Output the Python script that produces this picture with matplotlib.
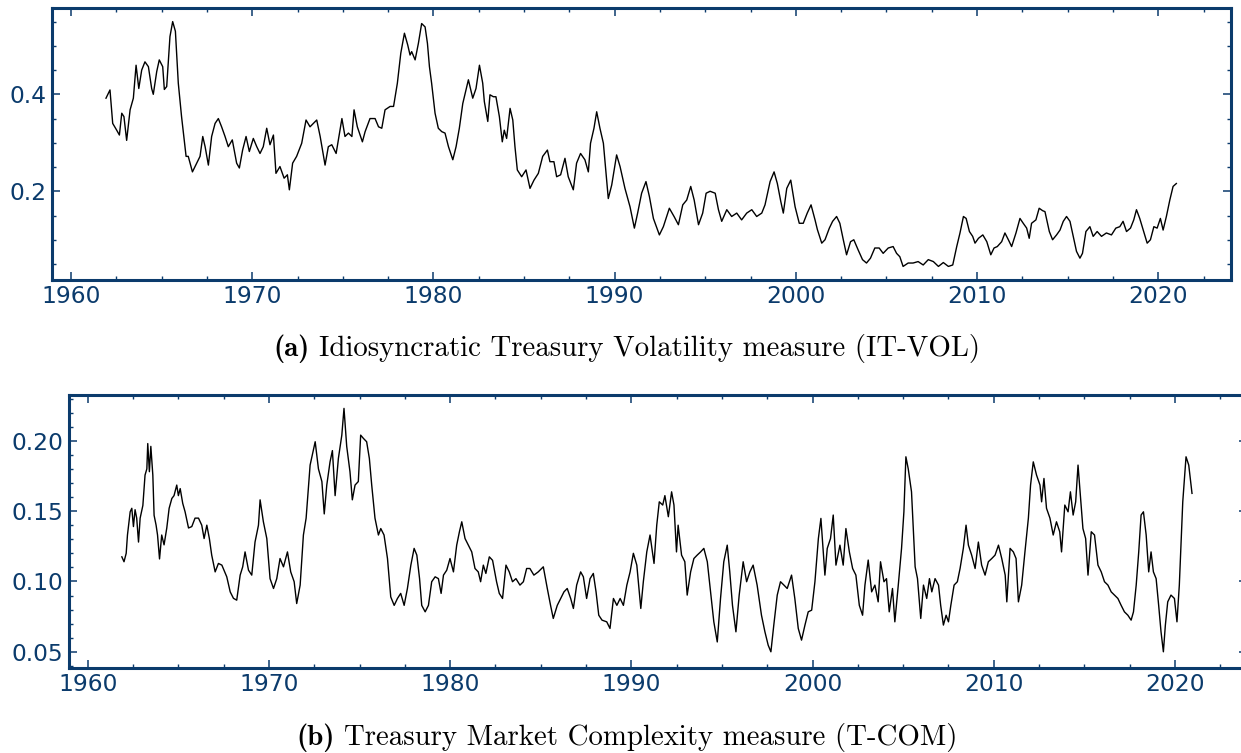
import numpy as np
import matplotlib
matplotlib.use("Agg")
import matplotlib.pyplot as plt
from matplotlib.ticker import MultipleLocator

NAVY = '#0b3b6c'

# IT-VOL (panel a)
itvol_years = [
    1961.93, 1962.15, 1962.3, 1962.52, 1962.67, 1962.8, 1962.92, 1963.07, 1963.26, 1963.44,
    1963.59, 1963.74, 1963.9, 1964.08, 1964.27, 1964.45, 1964.54, 1964.73, 1964.87, 1965.06,
    1965.15, 1965.28, 1965.46, 1965.61, 1965.76, 1965.92, 1966.1, 1966.35, 1966.47, 1966.7,
    1966.94, 1967.12, 1967.27, 1967.4, 1967.58, 1967.76, 1967.95, 1968.13, 1968.31, 1968.5,
    1968.68, 1968.9, 1969.14, 1969.29, 1969.47, 1969.66, 1969.84, 1970.06, 1970.25, 1970.43,
    1970.61, 1970.8, 1970.98, 1971.17, 1971.31, 1971.53, 1971.76, 1971.94, 1972.05, 1972.23,
    1972.45, 1972.73, 1972.97, 1973.19, 1973.56, 1973.75, 1974.02, 1974.2, 1974.39, 1974.63,
    1974.95, 1975.12, 1975.31, 1975.5, 1975.62, 1975.8, 1976.08, 1976.23, 1976.5, 1976.78,
    1976.97, 1977.15, 1977.33, 1977.61, 1977.8, 1978.01, 1978.2, 1978.4, 1978.58, 1978.71,
    1978.8, 1978.99, 1979.17, 1979.35, 1979.54, 1979.67, 1979.78, 1979.9, 1980.09, 1980.27,
    1980.46, 1980.64, 1980.83, 1981.07, 1981.25, 1981.43, 1981.62, 1981.8, 1981.93, 1982.17,
    1982.35, 1982.54, 1982.72, 1982.81, 1983.0, 1983.12, 1983.31, 1983.45, 1983.64, 1983.8,
    1983.91, 1984.04, 1984.23, 1984.38, 1984.5, 1984.63, 1984.87, 1985.11, 1985.33, 1985.55,
    1985.79, 1986.03, 1986.29, 1986.43, 1986.65, 1986.8, 1987.02, 1987.26, 1987.44, 1987.72,
    1987.9, 1988.12, 1988.36, 1988.55, 1988.67, 1988.86, 1989.01, 1989.19, 1989.38, 1989.65,
    1989.84, 1990.11, 1990.3, 1990.57, 1990.85, 1991.09, 1991.27, 1991.49, 1991.73, 1991.92,
    1992.14, 1992.47, 1992.69, 1993.02, 1993.28, 1993.52, 1993.76, 1993.98, 1994.2, 1994.39,
    1994.63, 1994.86, 1995.05, 1995.27, 1995.55, 1995.73, 1995.91, 1996.19, 1996.46, 1996.74,
    1997.01, 1997.29, 1997.57, 1997.84, 1998.12, 1998.3, 1998.58, 1998.8, 1998.98, 1999.17,
    1999.31, 1999.5, 1999.72, 1999.96, 2000.19, 2000.41, 2000.63, 2000.84, 2001.06, 2001.19,
    2001.43, 2001.61, 2001.85, 2002.03, 2002.25, 2002.43, 2002.62, 2002.8, 2003.02, 2003.2,
    2003.44, 2003.68, 2003.9, 2004.12, 2004.36, 2004.6, 2004.82, 2005.1, 2005.37, 2005.56,
    2005.74, 2005.92, 2006.2, 2006.47, 2006.75, 2007.03, 2007.31, 2007.59, 2007.87, 2008.14,
    2008.42, 2008.66, 2008.88, 2009.06, 2009.25, 2009.4, 2009.58, 2009.76, 2009.89, 2010.08,
    2010.32, 2010.54, 2010.76, 2010.94, 2011.12, 2011.36, 2011.54, 2011.73, 2011.91, 2012.15,
    2012.37, 2012.55, 2012.74, 2012.88, 2013.01, 2013.25, 2013.43, 2013.62, 2013.75, 2013.99,
    2014.17, 2014.39, 2014.58, 2014.76, 2014.94, 2015.13, 2015.31, 2015.49, 2015.68, 2015.82,
    2016.01, 2016.23, 2016.41, 2016.63, 2016.87, 2017.14, 2017.42, 2017.66, 2017.88, 2018.06,
    2018.25, 2018.47, 2018.65, 2018.8, 2018.98, 2019.17, 2019.39, 2019.57, 2019.76, 2019.94,
    2020.12, 2020.27, 2020.45, 2020.64, 2020.82, 2021.0,
]
itvol_values = [
    0.392, 0.409, 0.34, 0.326, 0.316, 0.361, 0.354, 0.305, 0.368, 0.392,
    0.46, 0.412, 0.45, 0.467, 0.457, 0.412, 0.40, 0.447, 0.471, 0.457,
    0.41, 0.416, 0.519, 0.55, 0.53, 0.423, 0.354, 0.272, 0.272, 0.24,
    0.258, 0.272, 0.313, 0.292, 0.254, 0.313, 0.34, 0.35, 0.333, 0.313,
    0.292, 0.306, 0.258, 0.248, 0.285, 0.313, 0.282, 0.309, 0.292, 0.278,
    0.292, 0.33, 0.296, 0.316, 0.237, 0.251, 0.227, 0.234, 0.203, 0.258,
    0.272, 0.299, 0.347, 0.333, 0.347, 0.313, 0.254, 0.292, 0.296, 0.278,
    0.35, 0.313, 0.32, 0.313, 0.368, 0.333, 0.302, 0.323, 0.35, 0.35,
    0.333, 0.33, 0.368, 0.375, 0.375, 0.423, 0.485, 0.526, 0.502, 0.481,
    0.488, 0.471, 0.505, 0.546, 0.539, 0.505, 0.457, 0.423, 0.361, 0.33,
    0.323, 0.32, 0.292, 0.265, 0.292, 0.33, 0.381, 0.409, 0.43, 0.392,
    0.412, 0.46, 0.423, 0.385, 0.344, 0.399, 0.395, 0.395, 0.354, 0.302,
    0.326, 0.309, 0.371, 0.347, 0.292, 0.244, 0.23, 0.244, 0.206, 0.223,
    0.237, 0.272, 0.285, 0.261, 0.261, 0.23, 0.234, 0.268, 0.23, 0.203,
    0.258, 0.278, 0.265, 0.24, 0.299, 0.33, 0.364, 0.33, 0.299, 0.185,
    0.213, 0.275, 0.251, 0.206, 0.168, 0.124, 0.155, 0.196, 0.22, 0.189,
    0.144, 0.11, 0.127, 0.165, 0.148, 0.131, 0.172, 0.182, 0.21, 0.182,
    0.131, 0.155, 0.196, 0.2, 0.196, 0.162, 0.138, 0.162, 0.148, 0.155,
    0.141, 0.155, 0.162, 0.148, 0.155, 0.172, 0.22, 0.24, 0.216, 0.179,
    0.155, 0.206, 0.223, 0.168, 0.134, 0.134, 0.155, 0.172, 0.141, 0.121,
    0.093, 0.1, 0.124, 0.138, 0.148, 0.134, 0.1, 0.069, 0.096, 0.1,
    0.079, 0.059, 0.052, 0.062, 0.083, 0.083, 0.072, 0.083, 0.086, 0.072,
    0.065, 0.045, 0.052, 0.052, 0.055, 0.048, 0.059, 0.055, 0.045, 0.053,
    0.045, 0.048, 0.086, 0.114, 0.148, 0.144, 0.117, 0.107, 0.093, 0.103,
    0.11, 0.096, 0.069, 0.083, 0.086, 0.096, 0.114, 0.1, 0.086, 0.114,
    0.144, 0.134, 0.124, 0.103, 0.134, 0.141, 0.165, 0.16, 0.158, 0.117,
    0.1, 0.11, 0.12, 0.138, 0.148, 0.138, 0.107, 0.076, 0.062, 0.072,
    0.117, 0.127, 0.107, 0.117, 0.107, 0.114, 0.11, 0.124, 0.127, 0.138,
    0.117, 0.124, 0.141, 0.162, 0.144, 0.12, 0.093, 0.1, 0.127, 0.124,
    0.144, 0.12, 0.148, 0.182, 0.21, 0.216,
]

# T-COM (panel b)
tcom_years = [
    1961.88, 1962.0, 1962.12, 1962.19, 1962.34, 1962.43, 1962.52, 1962.61, 1962.7, 1962.8,
    1962.89, 1963.04, 1963.16, 1963.26, 1963.31, 1963.4, 1963.48, 1963.59, 1963.66, 1963.77,
    1963.85, 1963.96, 1964.08, 1964.21, 1964.36, 1964.49, 1964.64, 1964.76, 1964.91, 1965.0,
    1965.1, 1965.24, 1965.37, 1965.56, 1965.74, 1965.92, 1966.11, 1966.29, 1966.42, 1966.57,
    1966.71, 1966.84, 1967.03, 1967.21, 1967.4, 1967.67, 1967.86, 1968.04, 1968.22, 1968.41,
    1968.55, 1968.68, 1968.87, 1969.05, 1969.23, 1969.42, 1969.51, 1969.69, 1969.88, 1970.06,
    1970.25, 1970.43, 1970.61, 1970.8, 1971.02, 1971.2, 1971.39, 1971.53, 1971.72, 1971.9,
    1972.05, 1972.27, 1972.55, 1972.73, 1972.92, 1973.05, 1973.19, 1973.37, 1973.5, 1973.65,
    1973.83, 1974.02, 1974.14, 1974.29, 1974.47, 1974.6, 1974.75, 1974.93, 1975.06, 1975.21,
    1975.39, 1975.54, 1975.67, 1975.85, 1976.04, 1976.17, 1976.35, 1976.54, 1976.72, 1976.91,
    1977.09, 1977.27, 1977.46, 1977.64, 1977.83, 1978.01, 1978.16, 1978.31, 1978.43, 1978.62,
    1978.8, 1978.98, 1979.17, 1979.35, 1979.5, 1979.63, 1979.81, 1979.99, 1980.18, 1980.36,
    1980.51, 1980.64, 1980.82, 1981.0, 1981.19, 1981.37, 1981.55, 1981.68, 1981.83, 1981.97,
    1982.16, 1982.34, 1982.56, 1982.71, 1982.89, 1983.08, 1983.26, 1983.44, 1983.63, 1983.85,
    1984.04, 1984.22, 1984.4, 1984.62, 1984.86, 1985.14, 1985.36, 1985.54, 1985.69, 1985.91,
    1986.1, 1986.28, 1986.46, 1986.65, 1986.8, 1986.98, 1987.2, 1987.35, 1987.53, 1987.72,
    1987.9, 1988.05, 1988.2, 1988.38, 1988.64, 1988.82, 1989.01, 1989.2, 1989.38, 1989.56,
    1989.75, 1989.93, 1990.11, 1990.3, 1990.52, 1990.66, 1990.85, 1991.03, 1991.25, 1991.4,
    1991.54, 1991.73, 1991.85, 1992.04, 1992.22, 1992.35, 1992.49, 1992.58, 1992.77, 1992.95,
    1993.08, 1993.27, 1993.45, 1993.63, 1993.82, 1994.0, 1994.19, 1994.37, 1994.55, 1994.74,
    1994.92, 1995.1, 1995.29, 1995.43, 1995.58, 1995.77, 1995.95, 1996.17, 1996.36, 1996.54,
    1996.72, 1996.94, 1997.18, 1997.37, 1997.55, 1997.7, 1997.86, 1998.05, 1998.23, 1998.42,
    1998.6, 1998.84, 1999.02, 1999.21, 1999.39, 1999.58, 1999.76, 1999.95, 2000.13, 2000.32,
    2000.46, 2000.68, 2000.81, 2000.99, 2001.14, 2001.29, 2001.51, 2001.69, 2001.84, 2002.03,
    2002.21, 2002.39, 2002.58, 2002.76, 2002.89, 2003.07, 2003.26, 2003.44, 2003.62, 2003.75,
    2003.94, 2004.08, 2004.23, 2004.41, 2004.54, 2004.73, 2004.91, 2005.04, 2005.15, 2005.28,
    2005.46, 2005.66, 2005.79, 2005.97, 2006.12, 2006.3, 2006.45, 2006.58, 2006.76, 2006.95,
    2007.07, 2007.22, 2007.37, 2007.5, 2007.63, 2007.81, 2007.99, 2008.14, 2008.32, 2008.47,
    2008.6, 2008.78, 2008.97, 2009.15, 2009.33, 2009.52, 2009.7, 2009.89, 2010.07, 2010.26,
    2010.44, 2010.63, 2010.72, 2010.9, 2011.08, 2011.23, 2011.36, 2011.54, 2011.72, 2011.91,
    2012.03, 2012.18, 2012.36, 2012.55, 2012.64, 2012.77, 2012.91, 2013.1, 2013.28, 2013.46,
    2013.64, 2013.74, 2013.92, 2014.1, 2014.23, 2014.38, 2014.52, 2014.65, 2014.78, 2014.92,
    2015.07, 2015.2, 2015.38, 2015.56, 2015.75, 2015.93, 2016.11, 2016.3, 2016.48, 2016.66,
    2016.85, 2017.03, 2017.21, 2017.4, 2017.58, 2017.71, 2017.86, 2018.0, 2018.13, 2018.26,
    2018.41, 2018.55, 2018.68, 2018.81, 2018.96, 2019.1, 2019.23, 2019.36, 2019.47, 2019.6,
    2019.78, 2019.97, 2020.11, 2020.24, 2020.43, 2020.61, 2020.76, 2020.94,
]
tcom_values = [
    0.1175, 0.114, 0.12, 0.133, 0.1495, 0.152, 0.139, 0.151, 0.145, 0.128,
    0.145, 0.154, 0.1756, 0.180, 0.198, 0.178, 0.196, 0.1756, 0.147, 0.14,
    0.133, 0.116, 0.133, 0.126, 0.138, 0.152, 0.159, 0.161, 0.1685, 0.161,
    0.166, 0.1555, 0.1495, 0.138, 0.139, 0.145, 0.145, 0.14, 0.1305, 0.14,
    0.1305, 0.1187, 0.1068, 0.1128, 0.1116, 0.1033, 0.0926, 0.088, 0.0867, 0.1045,
    0.1104, 0.121, 0.108, 0.1045, 0.128, 0.14, 0.158, 0.1425, 0.1305, 0.102,
    0.095, 0.102, 0.1163, 0.1104, 0.121, 0.1068, 0.0998, 0.0843, 0.0974, 0.133,
    0.145, 0.1827, 0.1993, 0.180, 0.171, 0.148, 0.1685, 0.185, 0.193, 0.161,
    0.1874, 0.204, 0.223, 0.196, 0.178, 0.158, 0.1685, 0.171, 0.204, 0.2017,
    0.1993, 0.1874, 0.1685, 0.145, 0.133, 0.1376, 0.133, 0.1163, 0.089, 0.083,
    0.0879, 0.0915, 0.083, 0.095, 0.1116, 0.1235, 0.1187, 0.102, 0.083, 0.0784,
    0.083, 0.0998, 0.1033, 0.102, 0.0915, 0.1045, 0.108, 0.1163, 0.1068, 0.1258,
    0.1353, 0.1424, 0.1305, 0.1258, 0.121, 0.1092, 0.1068, 0.0998, 0.1116, 0.1057,
    0.1175, 0.115, 0.0998, 0.0915, 0.0879, 0.1116, 0.1068, 0.0998, 0.102, 0.0974,
    0.0998, 0.1092, 0.1092, 0.1045, 0.1068, 0.1104, 0.095, 0.083, 0.0737, 0.083,
    0.0879, 0.0926, 0.095, 0.0879, 0.0808, 0.0974, 0.1068, 0.1033, 0.0879, 0.102,
    0.1057, 0.0926, 0.076, 0.0725, 0.0713, 0.0666, 0.0879, 0.083, 0.0879, 0.083,
    0.0974, 0.1068, 0.12, 0.1116, 0.0808, 0.0998, 0.121, 0.133, 0.1128, 0.14,
    0.1566, 0.1543, 0.161, 0.146, 0.1637, 0.1543, 0.121, 0.14, 0.1187, 0.114,
    0.0903, 0.1068, 0.1163, 0.1187, 0.121, 0.1235, 0.114, 0.0926, 0.0713, 0.057,
    0.0879, 0.114, 0.1258, 0.1068, 0.083, 0.0642, 0.0903, 0.114, 0.0998, 0.1068,
    0.1116, 0.0974, 0.076, 0.0642, 0.0547, 0.05, 0.069, 0.0903, 0.0998, 0.0974,
    0.095, 0.1045, 0.0879, 0.0666, 0.0583, 0.069, 0.0784, 0.0796, 0.0998, 0.1305,
    0.1448, 0.1045, 0.1235, 0.1305, 0.1472, 0.1116, 0.1258, 0.1116, 0.1376, 0.121,
    0.1092, 0.1045, 0.083, 0.076, 0.0974, 0.1152, 0.0926, 0.0974, 0.0855, 0.114,
    0.0998, 0.102, 0.0784, 0.095, 0.0713, 0.0974, 0.1235, 0.1495, 0.1886, 0.180,
    0.1637, 0.1104, 0.102, 0.0737, 0.0974, 0.0879, 0.102, 0.0926, 0.102, 0.0974,
    0.083, 0.069, 0.076, 0.0713, 0.083, 0.0974, 0.0998, 0.1092, 0.1235, 0.14,
    0.1258, 0.1187, 0.1092, 0.128, 0.1116, 0.1045, 0.114, 0.1163, 0.1187, 0.1258,
    0.1163, 0.1045, 0.0855, 0.1235, 0.121, 0.1163, 0.0855, 0.0974, 0.121, 0.145,
    0.1685, 0.185, 0.1756, 0.1685, 0.1566, 0.1732, 0.152, 0.145, 0.133, 0.1424,
    0.1353, 0.121, 0.1543, 0.1495, 0.1637, 0.1472, 0.1566, 0.1827, 0.1614, 0.1376,
    0.1305, 0.1045, 0.1353, 0.133, 0.1116, 0.1068, 0.0998, 0.0974, 0.0926, 0.0903,
    0.0879, 0.083, 0.0784, 0.076, 0.0725, 0.0784, 0.0974, 0.121, 0.1472, 0.1495,
    0.133, 0.1068, 0.121, 0.1068, 0.102, 0.083, 0.0642, 0.05, 0.069, 0.0855,
    0.0903, 0.0879, 0.0713, 0.0974, 0.1566, 0.1886, 0.1827, 0.1626,
]

caption_a = ("(a)", "Idiosyncratic Treasury Volatility measure (IT-VOL)")
caption_b = ("(b)", "Treasury Market Complexity measure (T-COM)")


def style_axis(ax, major_y, minor_y):
    for side in ax.spines.values():
        side.set_color(NAVY)
        side.set_linewidth(2.2)
    ax.set_xlim(1958.95, 2024)
    ax.xaxis.set_major_locator(MultipleLocator(10))
    ax.xaxis.set_minor_locator(MultipleLocator(2.5))
    ax.yaxis.set_major_locator(MultipleLocator(major_y))
    ax.yaxis.set_minor_locator(MultipleLocator(minor_y))
    ax.tick_params(which='both', direction='in', top=True, right=True,
                   color=NAVY, labelcolor=NAVY, labelsize=16.8, pad=4)
    ax.tick_params(which='major', length=5.5, width=1.1)
    ax.tick_params(which='minor', length=3, width=1.0)


def add_caption(fig, parts, baseline_px, fs=20.8):
    renderer = fig.canvas.get_renderer()
    W, H = fig.bbox.width, fig.bbox.height
    y = 1 - baseline_px / H
    tb = fig.text(0, y, parts[0], family='cmb10', fontsize=fs, va='baseline')
    tr = fig.text(0, y, parts[1], family='cmr10', fontsize=fs, va='baseline')
    wb = tb.get_window_extent(renderer).width
    wr = tr.get_window_extent(renderer).width
    gap = fs * 0.33 * fig.dpi / 72
    x0 = 627 - (wb + gap + wr) / 2
    tb.set_x(x0 / W)
    tr.set_x((x0 + wb + gap) / W)


fig = plt.figure(figsize=(12.41, 7.53), dpi=100)

ax1 = fig.add_axes([0.0419, 0.6288, 0.9498, 0.3612])
ax1.plot(itvol_years, itvol_values, color='black', lw=1.0)
style_axis(ax1, 0.2, 0.05)
ax1.set_ylim(0.018, 0.579)
ax1.set_yticklabels([f"{v:.1f}" for v in ax1.get_yticks()])

ax2 = fig.add_axes([0.0554, 0.1131, 0.9498, 0.3623])
ax2.plot(tcom_years, tcom_values, color='black', lw=1.0)
style_axis(ax2, 0.05, 0.01)
ax2.set_ylim(0.0386, 0.2325)
ax2.set_yticklabels([f"{v:.2f}" for v in ax2.get_yticks()])

add_caption(fig, caption_a, 356)
add_caption(fig, caption_b, 745)

fig.savefig('out.png', dpi=100)
